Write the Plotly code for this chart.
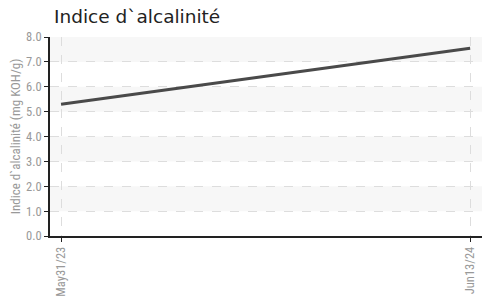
import plotly.graph_objects as go

dates = ["May31/23", "Jun13/24"]
values = [5.3, 7.55]
y_ticks = [0, 1, 2, 3, 4, 5, 6, 7, 8]
title = "Indice d`alcalinité"
y_title = "Indice d`alcalinité (mg KOH/g)"

fig = go.Figure()
fig.add_trace(go.Scatter(x=dates, y=values, mode="lines",
                         line=dict(color="#4a4a4a", width=3), hoverinfo="x+y"))

shapes = []
for lo in [1, 3, 5, 7]:
    shapes.append(dict(type="rect", xref="paper", yref="y", x0=0, x1=1, y0=lo, y1=lo + 1,
                       fillcolor="#f7f7f7", line=dict(width=0), layer="below"))

tickfont = dict(family="Liberation Sans Narrow, Roboto Condensed, Arial Narrow, sans-serif",
                size=12.5, color="#999999")

fig.update_layout(
    width=483, height=306,
    margin=dict(l=50, r=1, t=37, b=70),
    paper_bgcolor="white", plot_bgcolor="white",
    showlegend=False,
    shapes=shapes,
    title=dict(text=title, x=54 / 483, xanchor="left", y=1 - 17 / 306, yanchor="middle",
               font=dict(family="DejaVu Sans", size=18.5, color="#222222")),
    xaxis=dict(type="category", range=[-0.027, 1.029], tickangle=-90, automargin=False,
               showline=True, linecolor="#222222", linewidth=1.5,
               ticks="outside", ticklen=4, tickcolor="#222222",
               showgrid=True, gridcolor="#dddddd", griddash="dash", gridwidth=1,
               tickfont=tickfont, zeroline=False),
    yaxis=dict(range=[0, 8], tickvals=y_ticks, tickformat=".1f", automargin=False,
               showline=True, linecolor="#222222", linewidth=1.5,
               ticks="outside", ticklen=4, tickcolor="#222222",
               showgrid=True, gridcolor="#dddddd", griddash="dash", gridwidth=1,
               zeroline=False, tickfont=tickfont,
               title=dict(text=y_title, standoff=3,
                          font=dict(family="Liberation Sans Narrow, Roboto Condensed, sans-serif",
                                    size=13, color="#999999"))),
)

fig.write_html("out.html", config={"displayModeBar": False},
               post_script="document.body.style.margin='0';document.body.style.overflow='hidden';")
